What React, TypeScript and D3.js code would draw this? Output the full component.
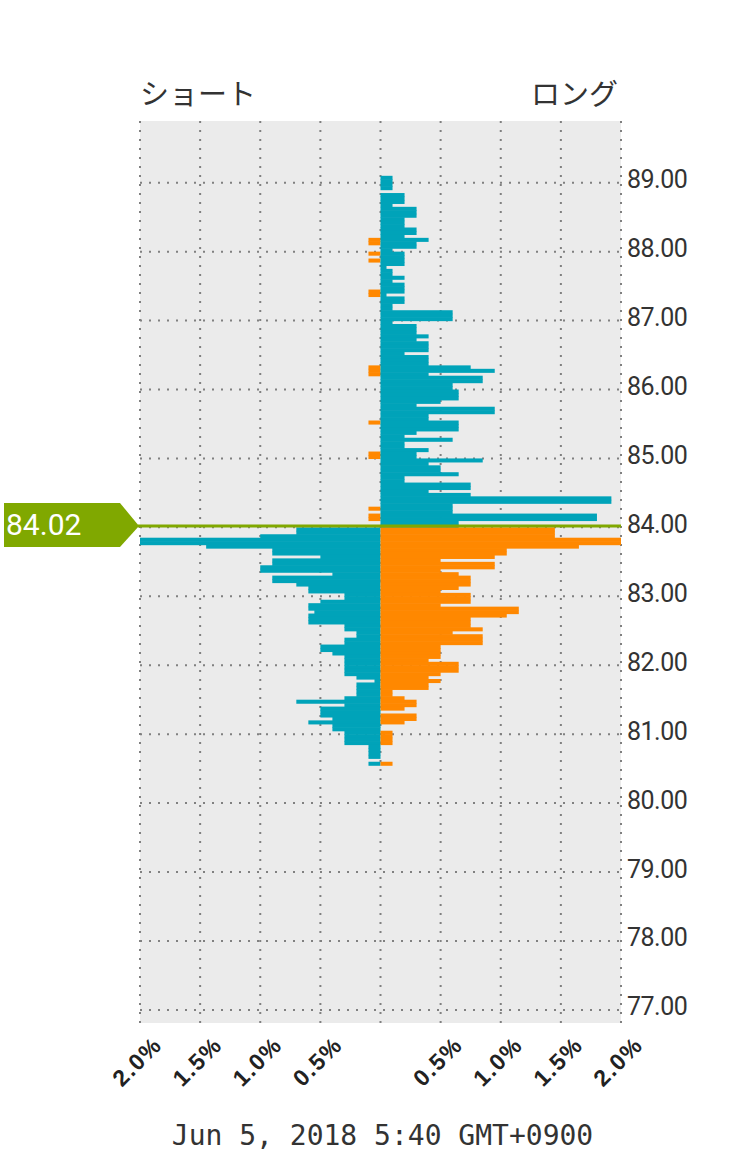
import React from "react";
import * as d3 from "d3";

// price levels (lower edge of each 0.05 bucket), top to bottom
const prices = [
  89.05, 89.0, 88.95, 88.9, 88.85, 88.8, 88.75, 88.7, 88.65, 88.6,
  88.55, 88.5, 88.45, 88.4, 88.35, 88.3, 88.25, 88.2, 88.15, 88.1,
  88.05, 88.0, 87.95, 87.9, 87.85, 87.8, 87.75, 87.7, 87.65, 87.6,
  87.55, 87.5, 87.45, 87.4, 87.35, 87.3, 87.25, 87.2, 87.15, 87.1,
  87.05, 87.0, 86.95, 86.9, 86.85, 86.8, 86.75, 86.7, 86.65, 86.6,
  86.55, 86.5, 86.45, 86.4, 86.35, 86.3, 86.25, 86.2, 86.15, 86.1,
  86.05, 86.0, 85.95, 85.9, 85.85, 85.8, 85.75, 85.7, 85.65, 85.6,
  85.55, 85.5, 85.45, 85.4, 85.35, 85.3, 85.25, 85.2, 85.15, 85.1,
  85.05, 85.0, 84.95, 84.9, 84.85, 84.8, 84.75, 84.7, 84.65, 84.6,
  84.55, 84.5, 84.45, 84.4, 84.35, 84.3, 84.25, 84.2, 84.15, 84.1,
  84.05, 84.0,
  83.95, 83.9, 83.85, 83.8, 83.75, 83.7, 83.65, 83.6, 83.55, 83.5,
  83.45, 83.4, 83.35, 83.3, 83.25, 83.2, 83.15, 83.1, 83.05, 83.0,
  82.95, 82.9, 82.85, 82.8, 82.75, 82.7, 82.65, 82.6, 82.55, 82.5,
  82.45, 82.4, 82.35, 82.3, 82.25, 82.2, 82.15, 82.1, 82.05, 82.0,
  81.95, 81.9, 81.85, 81.8, 81.75, 81.7, 81.65, 81.6, 81.55, 81.5,
  81.45, 81.4, 81.35, 81.3, 81.25, 81.2, 81.15, 81.1, 81.05, 81.0,
  80.95, 80.9, 80.85, 80.8, 80.75, 80.7, 80.65, 80.6, 80.55,
];

// short positions (%), drawn to the left
const shortPct = [
  0, 0, 0, 0, 0, 0, 0, 0, 0, 0,
  0, 0, 0, 0, 0, 0, 0, 0, 0.1, 0.1,
  0, 0, 0.1, 0, 0.1, 0, 0, 0, 0, 0,
  0, 0, 0, 0.1, 0.1, 0, 0, 0, 0, 0,
  0, 0, 0, 0, 0, 0, 0, 0, 0, 0,
  0, 0, 0, 0, 0, 0.1, 0.1, 0.1, 0, 0,
  0, 0, 0, 0, 0, 0, 0, 0, 0, 0,
  0, 0.1, 0, 0, 0, 0, 0, 0, 0, 0,
  0.1, 0.1, 0, 0, 0, 0, 0, 0, 0, 0,
  0, 0, 0, 0, 0, 0, 0.1, 0, 0.1, 0.1,
  0, 0,
  0.7, 0.7, 1.0, 2.0, 2.0, 1.45, 0.9, 0.9, 0.5, 0.9,
  0.9, 1.0, 1.0, 0.4, 0.9, 0.9, 0.7, 0.6, 0.6, 0.3,
  0.3, 0.5, 0.6, 0.6, 0.55, 0.6, 0.6, 0.6, 0.3, 0.3,
  0.2, 0.2, 0.3, 0.3, 0.5, 0.5, 0.4, 0.3, 0.3, 0.3,
  0.3, 0.3, 0.3, 0.2, 0.05, 0.2, 0.2, 0.2, 0.2, 0.3,
  0.7, 0.3, 0.5, 0.5, 0.5, 0.4, 0.6, 0.4, 0.4, 0.3,
  0.3, 0.3, 0.3, 0.1, 0.1, 0.1, 0.1, 0, 0.1,
];

// long positions (%), drawn to the right
const longPct = [
  0.1, 0.1, 0.1, 0.1, 0, 0.2, 0.2, 0.2, 0.1, 0.3,
  0.3, 0.3, 0.2, 0.2, 0.2, 0.3, 0.3, 0.2, 0.4, 0.3,
  0.3, 0.1, 0.2, 0.2, 0.2, 0.2, 0.05, 0.1, 0.1, 0.2,
  0.1, 0.2, 0.2, 0.2, 0.05, 0.2, 0.2, 0.1, 0.1, 0.6,
  0.6, 0.6, 0.1, 0.3, 0.3, 0.3, 0.4, 0.3, 0.4, 0.4,
  0.4, 0.2, 0.4, 0.4, 0.4, 0.75, 0.95, 0.4, 0.85, 0.85,
  0.6, 0.6, 0.65, 0.65, 0.65, 0.5, 0.3, 0.95, 0.95, 0.4,
  0.4, 0.65, 0.65, 0.65, 0.3, 0.2, 0.6, 0.2, 0.2, 0.4,
  0.3, 0.3, 0.85, 0.4, 0.5, 0.5, 0.65, 0.2, 0.2, 0.75,
  0.75, 0.4, 0.75, 1.92, 1.92, 0.6, 0.6, 0.6, 1.8, 1.8,
  0.65, 0.65,
  1.45, 1.45, 1.45, 2.0, 2.0, 1.65, 1.05, 1.05, 0.95, 0.5,
  0.95, 0.95, 0.5, 0.65, 0.75, 0.75, 0.75, 0.65, 0.5, 0.75,
  0.75, 0.75, 0.5, 1.15, 1.15, 1.05, 0.75, 0.75, 0.75, 0.85,
  0.6, 0.85, 0.85, 0.85, 0.5, 0.5, 0.5, 0.5, 0.4, 0.65,
  0.65, 0.65, 0.5, 0.4, 0.5, 0.4, 0.4, 0.1, 0.1, 0.2,
  0.3, 0.3, 0.2, 0, 0.3, 0.3, 0.2, 0, 0, 0.1,
  0.1, 0.1, 0.1, 0, 0, 0, 0, 0, 0.1,
];

const priceTicks = [77, 78, 79, 80, 81, 82, 83, 84, 85, 86, 87, 88, 89];
const pctTicks = [-2, -1.5, -1, -0.5, 0.5, 1, 1.5, 2];
const pctGrid = [-2, -1.5, -1, -0.5, 0, 0.5, 1, 1.5, 2];

const currentPrice = 84.02;
const bucket = 0.05;

const TEAL = "#00a3b9";
const ORANGE = "#ff8800";
const GREEN = "#80a800";

const W = 741;
const H = 1153;
const plot = { left: 140, right: 621, top: 121, bottom: 1023 };

export default function App() {
  const x = d3.scaleLinear().domain([-2, 2]).range([plot.left, plot.right]);
  const y = d3.scaleLinear().domain([76.81, 89.895]).range([plot.bottom, plot.top]);
  const x0 = x(0);
  const lineY = y(currentPrice);

  const rows = prices.map((p, i) => ({ p, s: shortPct[i], l: longPct[i] }));

  return (
    <svg
      width={W}
      height={H}
      style={{ position: "absolute", left: 0, top: 0, background: "#fff" }}
    >
      <rect
        x={plot.left}
        y={plot.top}
        width={plot.right - plot.left}
        height={plot.bottom - plot.top}
        fill="#ebebeb"
      />

      {/* grid */}
      {pctGrid.map((v) => (
        <line
          key={"gx" + v}
          x1={x(v)}
          x2={x(v)}
          y1={plot.top}
          y2={plot.bottom}
          stroke="#808080"
          strokeWidth={2}
          strokeDasharray="2 7"
        />
      ))}
      {priceTicks.map((v) => (
        <line
          key={"gy" + v}
          x1={plot.left}
          x2={plot.right}
          y1={y(v)}
          y2={y(v)}
          stroke="#808080"
          strokeWidth={2}
          strokeDasharray="2 7"
        />
      ))}

      {/* bars, slightly overlapped so no seams show between buckets */}
      {rows.map((r) => {
        const above = r.p + bucket / 2 > currentPrice;
        const yTop = y(r.p + bucket);
        const h = y(r.p) - yTop + 0.6;
        return (
          <g key={r.p}>
            {r.s > 0 && (
              <rect
                x={x(-r.s)}
                y={yTop}
                width={x0 - x(-r.s)}
                height={h}
                fill={above ? ORANGE : TEAL}
              />
            )}
            {r.l > 0 && (
              <rect
                x={x0}
                y={yTop}
                width={x(r.l) - x0}
                height={h}
                fill={above ? TEAL : ORANGE}
              />
            )}
          </g>
        );
      })}

      {/* current price */}
      <line x1={138} x2={plot.right} y1={lineY} y2={lineY} stroke={GREEN} strokeWidth={3} />
      <path
        d={`M4,${lineY - 23} L120,${lineY - 23} L139,${lineY} L120,${lineY + 21} L4,${lineY + 21} Z`}
        fill={GREEN}
      />
      <text
        x={6}
        y={lineY - 1}
        dominantBaseline="central"
        fill="#fff"
        fontFamily="Roboto, 'DejaVu Sans', sans-serif"
        fontSize={30}
      >
        {currentPrice.toFixed(2)}
      </text>

      {/* price axis */}
      {priceTicks.map((v) => (
        <text
          key={"ty" + v}
          x={627}
          y={y(v) - 3}
          dominantBaseline="central"
          fill="#333"
          fontFamily="Roboto, sans-serif"
          fontSize={25}
          letterSpacing={-0.5}
        >
          {v.toFixed(2)}
        </text>
      ))}

      {/* percent axis */}
      {pctTicks.map((v) => (
        <text
          key={"tx" + v}
          transform={`translate(${x(v) + 12},${plot.bottom + 12}) rotate(-45)`}
          textAnchor="end"
          dy="0.7em"
          fill="#222"
          fontFamily="'Liberation Sans', Arial, sans-serif"
          fontWeight="bold"
          fontSize={23}
          letterSpacing={1.5}
        >
          {Math.abs(v).toFixed(1) + "%"}
        </text>
      ))}

      {/* headers */}
      <text
        x={plot.left}
        y={105}
        fill="#333"
        fontFamily="'Noto Sans CJK JP', sans-serif"
        fontSize={29}
      >
        ショート
      </text>
      <text
        x={plot.right - 3}
        y={105}
        textAnchor="end"
        fill="#333"
        fontFamily="'Noto Sans CJK JP', sans-serif"
        fontSize={29}
      >
        ロング
      </text>

      <text
        x={x0 + 2}
        y={1145}
        textAnchor="middle"
        fill="#333"
        fontFamily="'DejaVu Sans Mono', monospace"
        fontSize={28}
      >
        Jun 5, 2018 5:40 GMT+0900
      </text>
    </svg>
  );
}
